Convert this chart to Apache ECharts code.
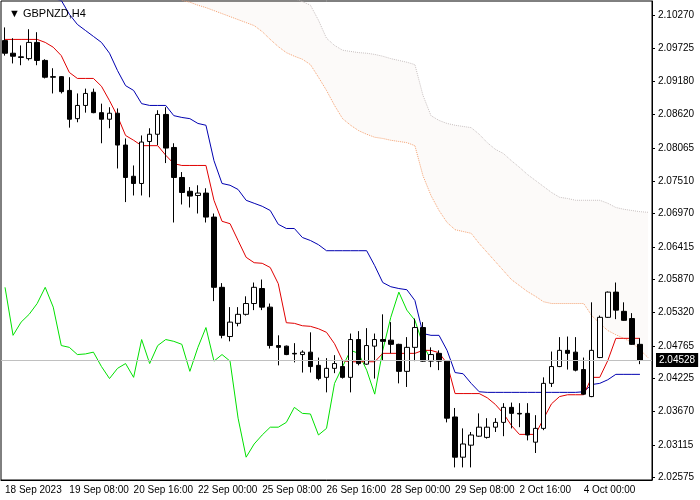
<!DOCTYPE html>
<html>
<head>
<meta charset="utf-8">
<script src="https://cdn.jsdelivr.net/npm/echarts@6/dist/echarts.min.js"></script>
<style>
  html, body { margin: 0; padding: 0; background: #fff; }
  #chart { width: 700px; height: 500px; }
</style>
</head>
<body>
<div id="chart"></div>
<script>
// 时间标签（每8根K线一个）
var dateLabels = ['18 Sep 2023', '19 Sep 08:00', '20 Sep 16:00', '22 Sep 00:00', '25 Sep 08:00',
  '26 Sep 16:00', '28 Sep 00:00', '29 Sep 08:00', '2 Oct 16:00', '4 Oct 00:00']
// 右侧价格刻度
var priceTicks = [2.10270, 2.09725, 2.09180, 2.08620, 2.08065, 2.07510, 2.06970, 2.06415,
  2.05870, 2.05320, 2.04765, 2.04225, 2.03670, 2.03115, 2.02575]
var lastPrice = 2.04528

// K线 [开, 收, 低, 高]
var candles = [
  [2.0985, 2.0964, 2.0960, 2.1007], [2.0964, 2.0959, 2.0947, 2.0989], [2.0958, 2.0957, 2.0944, 2.0977],
  [2.0955, 2.0982, 2.0952, 2.1004], [2.0982, 2.0952, 2.0944, 2.0999], [2.0952, 2.0924, 2.0922, 2.0954],
  [2.0925, 2.0924, 2.0897, 2.0939], [2.0925, 2.0900, 2.0897, 2.0926], [2.0902, 2.0854, 2.0840, 2.0924],
  [2.0855, 2.0877, 2.0849, 2.0897], [2.0877, 2.0897, 2.0865, 2.0905], [2.0899, 2.0865, 2.0864, 2.0905],
  [2.0865, 2.0854, 2.0814, 2.0880], [2.0854, 2.0864, 2.0839, 2.0874], [2.0864, 2.0811, 2.0772, 2.0872],
  [2.0811, 2.0757, 2.0716, 2.0822], [2.0759, 2.0747, 2.0727, 2.0777], [2.0747, 2.0816, 2.0727, 2.0827],
  [2.0817, 2.0829, 2.0724, 2.0839], [2.0829, 2.0862, 2.0811, 2.0869], [2.0862, 2.0806, 2.0781, 2.0874],
  [2.0807, 2.0757, 2.0682, 2.0814], [2.0757, 2.0732, 2.0712, 2.0766], [2.0734, 2.0726, 2.0707, 2.0741],
  [2.0727, 2.0731, 2.0697, 2.0744], [2.0731, 2.0691, 2.0682, 2.0739], [2.0691, 2.0574, 2.0551, 2.0697],
  [2.0574, 2.0494, 2.0489, 2.0581], [2.0492, 2.0516, 2.0484, 2.0541], [2.0514, 2.0529, 2.0509, 2.0541],
  [2.0529, 2.0547, 2.0527, 2.0559], [2.0547, 2.0574, 2.0536, 2.0582], [2.0572, 2.0541, 2.0536, 2.0587],
  [2.0541, 2.0477, 2.0472, 2.0547], [2.0477, 2.0474, 2.0444, 2.0494], [2.0476, 2.0462, 2.0461, 2.0477],
  [2.0464, 2.0463, 2.0449, 2.0481], [2.0462, 2.0466, 2.0432, 2.0469], [2.0466, 2.0442, 2.0432, 2.0499],
  [2.0444, 2.0422, 2.0419, 2.0457], [2.0424, 2.0439, 2.0399, 2.0456], [2.0439, 2.0447, 2.0431, 2.0461],
  [2.0442, 2.0424, 2.0422, 2.0452], [2.0424, 2.0487, 2.0399, 2.0497], [2.0487, 2.0447, 2.0444, 2.0501],
  [2.0446, 2.0477, 2.0445, 2.0506], [2.0476, 2.0487, 2.0422, 2.0497], [2.0487, 2.0484, 2.0452, 2.0529],
  [2.0486, 2.0479, 2.0464, 2.0516], [2.0479, 2.0434, 2.0414, 2.0480], [2.0434, 2.0474, 2.0408, 2.0491],
  [2.0474, 2.0507, 2.0451, 2.0522], [2.0507, 2.0451, 2.0450, 2.0516], [2.0451, 2.0462, 2.0441, 2.0474],
  [2.0464, 2.0451, 2.0436, 2.0469], [2.0451, 2.0356, 2.0349, 2.0452], [2.0358, 2.0291, 2.0274, 2.0373],
  [2.0291, 2.0313, 2.0274, 2.0339], [2.0311, 2.0328, 2.0274, 2.0333], [2.0326, 2.0341, 2.0325, 2.0364],
  [2.0324, 2.0341, 2.0322, 2.0356], [2.0341, 2.0349, 2.0333, 2.0356], [2.0349, 2.0374, 2.0326, 2.0381],
  [2.0374, 2.0364, 2.0339, 2.0382], [2.0364, 2.0363, 2.0341, 2.0381], [2.0364, 2.0328, 2.0319, 2.0381],
  [2.0316, 2.0339, 2.0298, 2.0361], [2.0339, 2.0414, 2.0336, 2.0424], [2.0414, 2.0442, 2.0408, 2.0467],
  [2.0442, 2.0469, 2.0441, 2.0491], [2.0469, 2.0464, 2.0437, 2.0492], [2.0466, 2.0436, 2.0434, 2.0491],
  [2.0437, 2.0396, 2.0395, 2.0457], [2.0392, 2.0469, 2.0391, 2.0549], [2.0457, 2.0524, 2.0456, 2.0527],
  [2.0524, 2.0566, 2.0523, 2.0567], [2.0566, 2.0536, 2.0521, 2.0582], [2.0534, 2.0519, 2.0518, 2.0549],
  [2.0522, 2.0479, 2.0478, 2.0531], [2.0479, 2.04528, 2.0446, 2.0489]
];

// 转换线（红）
var tenkan = [2.0987, 2.0987, 2.0987, 2.0987, 2.0987, 2.0982, 2.0974, 2.0960, 2.0932, 2.0922,
  2.0922, 2.0922, 2.0909, 2.0885, 2.0859, 2.0827, 2.0819, 2.0810, 2.0810, 2.0810,
  2.0794, 2.0780, 2.0777, 2.0777, 2.0777, 2.0777, 2.0719, 2.0684, 2.0680, 2.0652,
  2.0624, 2.0615, 2.0614, 2.0607, 2.0580, 2.0515, 2.0514, 2.0510, 2.0509, 2.0505,
  2.0499, 2.0480, 2.0452, 2.0450, 2.0450, 2.0450, 2.0450, 2.0464, 2.0464, 2.0464,
  2.0464, 2.0464, 2.0469, 2.0469, 2.0465, 2.0447, 2.0397, 2.0397, 2.0397, 2.0397,
  2.0390, 2.0379, 2.0364, 2.0344, 2.0329, 2.0329, 2.0329, 2.0355, 2.0380, 2.0392,
  2.0395, 2.0395, 2.0395, 2.0424, 2.0424, 2.0452, 2.0489, 2.0489, 2.0489, 2.0489];
// 基准线（蓝）
var kijun = [2.1110, 2.1099, 2.1085, 2.1075, 2.1067, 2.1060, 2.1055, 2.1052, 2.1029, 2.1012,
  2.1002, 2.0992, 2.0982, 2.0964, 2.0935, 2.0910, 2.0902, 2.0880, 2.0877, 2.0877,
  2.0877, 2.0860, 2.0857, 2.0855, 2.0847, 2.0844, 2.0785, 2.0747, 2.0744, 2.0737,
  2.0719, 2.0714, 2.0709, 2.0702, 2.0679, 2.0672, 2.0672, 2.0657, 2.0652, 2.0645,
  2.0635, 2.0635, 2.0635, 2.0635, 2.0635, 2.0635, 2.0610, 2.0582, 2.0575, 2.0572,
  2.0570, 2.0552, 2.0497, 2.0494, 2.0494, 2.0469, 2.0432, 2.0430, 2.0414, 2.0400,
  2.0399, 2.0399, 2.0399, 2.0399, 2.0399, 2.0399, 2.0399, 2.0399, 2.0399, 2.0399,
  2.0399, 2.0399, 2.0400, 2.0412, 2.0414, 2.0420, 2.0429, 2.0429, 2.0429, 2.0429];
// 云层（从第22根开始）
var cloudStart = 22;
var spanLow = [2.1052, 2.1049, 2.1044, 2.1040, 2.1035, 2.1030, 2.1025, 2.1020, 2.1015, 2.1010,
  2.1000, 2.0987, 2.0975, 2.0965, 2.0959, 2.0954, 2.0945, 2.0924, 2.0902, 2.0877,
  2.0855, 2.0844, 2.0835, 2.0829, 2.0824, 2.0822, 2.0819, 2.0817, 2.0815, 2.0810,
  2.0760, 2.0727, 2.0702, 2.0682, 2.0670, 2.0667, 2.0664, 2.0647, 2.0632, 2.0617,
  2.0602, 2.0587, 2.0577, 2.0567, 2.0559, 2.0550, 2.0547, 2.0547, 2.0547, 2.0547,
  2.0547, 2.0527, 2.0514, 2.0502, 2.0495, 2.0489, 2.0482, 2.0470, 2.0457];
var spanHigh = [2.1119, 2.1114, 2.1110, 2.1105, 2.1102, 2.1097, 2.1094, 2.1087, 2.1082, 2.1077,
  2.1072, 2.1067, 2.1064, 2.1059, 2.1055, 2.1050, 2.1044, 2.1019, 2.0989, 2.0977,
  2.0969, 2.0967, 2.0965, 2.0964, 2.0962, 2.0959, 2.0955, 2.0952, 2.0949, 2.0945,
  2.0894, 2.0860, 2.0852, 2.0847, 2.0844, 2.0842, 2.0840, 2.0829, 2.0815, 2.0804,
  2.0797, 2.0785, 2.0774, 2.0762, 2.0752, 2.0742, 2.0732, 2.0724, 2.0722, 2.0719,
  2.0719, 2.0719, 2.0719, 2.0714, 2.0707, 2.0704, 2.0702, 2.0700, 2.0699];

(function () {
  var total = cloudStart + spanLow.length
  var cats = []
  for (var i = 0; i < total; i++) cats.push(String(i))
  // 延迟线 = 26根之后的收盘价
  var chikou = []
  for (var j = 0; j + 26 < candles.length; j++) chikou.push(candles[j + 26][1])
  var lowData = [], diffData = []
  for (var k = 0; k < total; k++) {
    var s = k - cloudStart
    if (s < 0) { lowData.push('-'); diffData.push('-') }
    else { lowData.push(spanLow[s]); diffData.push(+(spanHigh[s] - spanLow[s]).toFixed(5)) }
  }
  var font = 'Liberation Sans'
  var option = {
    animation: false,
    title: {
      text: '\u25BC GBPNZD,H4', left: 4, top: 3,
      textStyle: { fontSize: 11, fontWeight: 'normal', color: '#000', fontFamily: font }
    },
    grid: { left: 1, right: 48, top: 1, bottom: 20, show: true, borderColor: '#000', borderWidth: 1 },
    xAxis: {
      type: 'category', data: cats, boundaryGap: true,
      axisLine: { lineStyle: { color: '#000' } },
      axisTick: { interval: 7, length: 3, alignWithLabel: true, lineStyle: { color: '#000' } },
      axisLabel: {
        interval: 7, align: 'left', margin: 5, color: '#000', fontSize: 10, fontFamily: font,
        formatter: function (v, idx) { return dateLabels[idx / 8] || '' }
      },
      splitLine: { show: false }
    },
    yAxis: {
      type: 'value', position: 'right', min: 2.0253, max: 2.1051, scale: true,
      axisLine: { show: true, lineStyle: { color: '#000' } },
      axisTick: { show: true, length: 3, customValues: priceTicks, lineStyle: { color: '#000' } },
      axisLabel: {
        customValues: priceTicks, color: '#000', fontSize: 10, fontFamily: font, margin: 6,
        formatter: function (v) { return v.toFixed(5) }
      },
      splitLine: { show: false }
    },
    series: [
      {
        name: 'spanLow', type: 'line', data: lowData, stack: 'cloud', symbol: 'none',
        lineStyle: { color: '#f4a070', width: 1, type: 'dotted' }, z: 1
      },
      {
        name: 'spanDiff', type: 'line', data: diffData, stack: 'cloud', symbol: 'none',
        lineStyle: { color: '#c8c0c0', width: 1, type: 'dotted' },
        areaStyle: { color: 'rgba(225, 195, 185, 0.12)' }, z: 1
      },
      {
        name: 'chikou', type: 'line', data: chikou, symbol: 'none',
        lineStyle: { color: '#00e000', width: 1 }, z: 2
      },
      {
        name: 'kijun', type: 'line', data: kijun, symbol: 'none',
        lineStyle: { color: '#0000b0', width: 1 }, z: 3
      },
      {
        name: 'tenkan', type: 'line', data: tenkan, symbol: 'none',
        lineStyle: { color: '#e00000', width: 1 }, z: 3,
        markLine: {
          symbol: 'none', silent: true, precision: 5,
          lineStyle: { color: '#c0c0c0', width: 1, type: 'solid' },
          label: {
            position: 'end', distance: 4, formatter: lastPrice.toFixed(5),
            backgroundColor: '#000', color: '#fff', fontSize: 10, fontFamily: font, padding: [2, 3]
          },
          data: [{ yAxis: lastPrice }]
        }
      },
      {
        name: 'price', type: 'candlestick', data: candles, barWidth: 5, z: 4,
        itemStyle: { color: '#fff', color0: '#000', borderColor: '#000', borderColor0: '#000', borderWidth: 1 }
      }
    ]
  }
  var myChart = echarts.init(document.getElementById('chart'))
  myChart.setOption(option)
})();
</script>
</body>
</html>
